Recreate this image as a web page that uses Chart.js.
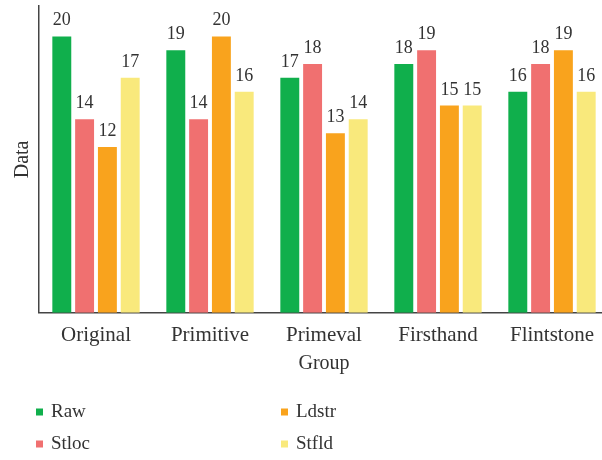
<!DOCTYPE html>
<html>
<head>
<meta charset="utf-8">
<script src="https://cdn.jsdelivr.net/npm/chart.js@4"></script>
<style>
  html, body { margin: 0; padding: 0; background: #fff; overflow: hidden; }
  #wrap { width: 612px; height: 460px; position: relative; }
</style>
</head>
<body>
<div id="wrap"><canvas id="chart"></canvas></div>
<script>
// Data
const groups = ['Original', 'Primitive', 'Primeval', 'Firsthand', 'Flintstone'];
const seriesNames = ['Raw', 'Stloc', 'Ldstr', 'Stfld'];
const raw   = [20, 19, 17, 18, 16];
const stloc = [14, 14, 18, 19, 18];
const ldstr = [12, 20, 13, 15, 19];
const stfld = [17, 16, 14, 15, 16];
const colors = ['#10AF4C', '#F07070', '#F9A31D', '#F9E97C'];

const FONT = '"Liberation Serif", "DejaVu Serif", serif';
const TEXT = '#333';

// value labels on top of each bar
const valueLabels = {
    id: 'valueLabels',
    afterDatasetsDraw(chart) {
        const ctx = chart.ctx;
        ctx.save();
        ctx.font = `18px ${FONT}`;
        ctx.fillStyle = TEXT;
        ctx.textAlign = 'center';
        ctx.textBaseline = 'alphabetic';
        chart.data.datasets.forEach((ds, i) => {
            chart.getDatasetMeta(i).data.forEach((bar, j) => {
                ctx.fillText(ds.data[j], bar.x, bar.y - 11);
            });
        });
        ctx.restore();
    }
};

// two-column legend under the chart
const gridLegend = {
    id: 'gridLegend',
    afterDraw(chart) {
        const ctx = chart.ctx;
        const colX = [36, 281], rowY = [412, 444];
        ctx.save();
        ctx.font = `19px ${FONT}`;
        ctx.textBaseline = 'middle';
        chart.data.datasets.forEach((ds, i) => {
            const x = colX[Math.floor(i / 2)], y = rowY[i % 2];
            ctx.fillStyle = ds.backgroundColor;
            ctx.fillRect(x, y - 3.5, 7, 7);
            ctx.fillStyle = TEXT;
            ctx.fillText(ds.label, x + 15, y);
        });
        ctx.restore();
    }
};

new Chart(document.getElementById('chart'), {
    type: 'bar',
    data: {
        labels: groups,
        datasets: [raw, stloc, ldstr, stfld].map((d, i) => ({
            label: seriesNames[i],
            data: d,
            backgroundColor: colors[i],
            borderWidth: 0,
            categoryPercentage: 0.8,
            barPercentage: 0.83
        }))
    },
    options: {
        responsive: true,
        maintainAspectRatio: false,
        animation: false,
        layout: { padding: { top: 6, right: 3, bottom: 80, left: 7 } },
        plugins: {
            legend: { display: false },
            tooltip: { enabled: false }
        },
        scales: {
            x: {
                grid: { display: false },
                border: { color: '#444', width: 1.5 },
                ticks: { color: TEXT, font: { family: FONT, size: 21 }, padding: 2 },
                title: { display: true, text: 'Group', color: TEXT, font: { family: FONT, size: 20 }, padding: { top: 2 } }
            },
            y: {
                min: 0,
                max: 22.2,
                grid: { display: false, drawTicks: false },
                border: { color: '#444', width: 1.5 },
                ticks: { display: false },
                title: { display: true, text: 'Data', color: TEXT, font: { family: FONT, size: 20 }, padding: { bottom: 4 } }
            }
        }
    },
    plugins: [valueLabels, gridLegend]
});
</script>
</body>
</html>
